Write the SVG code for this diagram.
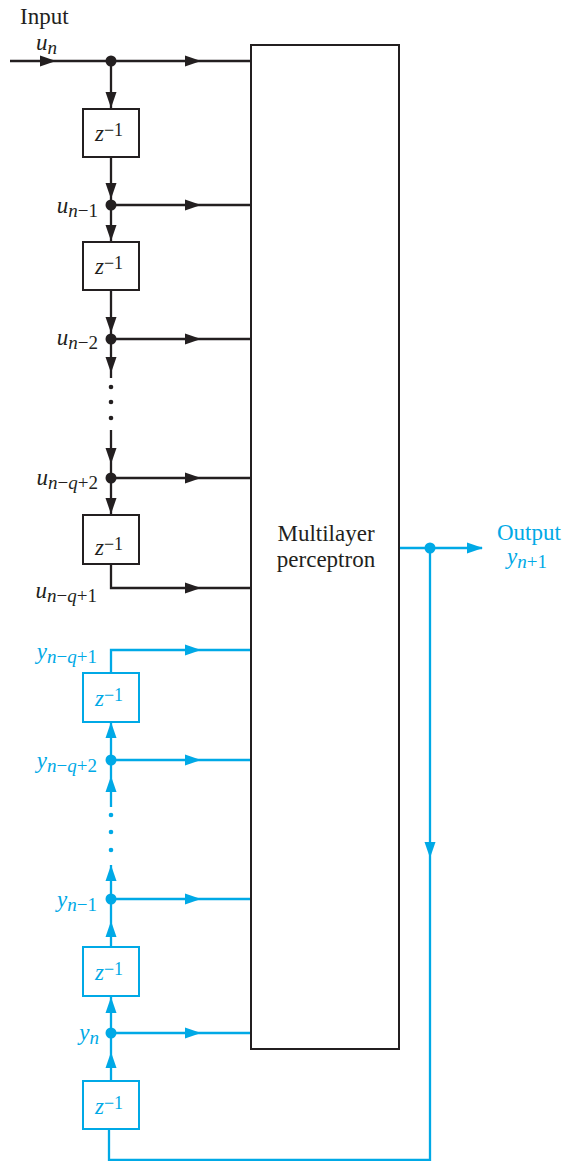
<svg xmlns="http://www.w3.org/2000/svg" xmlns:xlink="http://www.w3.org/1999/xlink" width="575" height="1161" viewBox="0 0 575 1161">
<style>
.k{stroke:#231f20;fill:none;stroke-width:2.3}
.b{stroke:#00a9e6;fill:none;stroke-width:2.3}
.kf{fill:#231f20}
.bf{fill:#00a9e6}
.box{fill:#fff;stroke-width:2}
text{font-family:"Liberation Serif","Times New Roman",serif;font-size:23px}
.i{font-style:italic}
.s{font-size:19px}
.su{font-size:18px}
.tk{fill:#231f20}
.tb{fill:#00a9e6}
</style>
<defs>
<path id="ah" d="M0,0 L-16,-5.5 L-16,5.5 Z"/>
</defs>
<g id="connectors">
<path class="k" d="M10,61 H251 M111,61 V109 M111,157 V242 M111,205 H251 M111,290 V378 M111,339 H251 M111,430 V515 M111,478 H251 M111,564 V588 H251"/>
<g class="kf">
<use xlink:href="#ah" transform="translate(56,61)"/>
<use xlink:href="#ah" transform="translate(201,61)"/>
<use xlink:href="#ah" transform="translate(111,108) rotate(90)"/>
<use xlink:href="#ah" transform="translate(111,199) rotate(90)"/>
<use xlink:href="#ah" transform="translate(201,205)"/>
<use xlink:href="#ah" transform="translate(111,241) rotate(90)"/>
<use xlink:href="#ah" transform="translate(111,333) rotate(90)"/>
<use xlink:href="#ah" transform="translate(201,339)"/>
<use xlink:href="#ah" transform="translate(111,373) rotate(90)"/>
<use xlink:href="#ah" transform="translate(111,464) rotate(90)"/>
<use xlink:href="#ah" transform="translate(201,478)"/>
<use xlink:href="#ah" transform="translate(111,514) rotate(90)"/>
<use xlink:href="#ah" transform="translate(201,588)"/>
<circle cx="111" cy="61" r="5.5"/>
<circle cx="111" cy="205" r="5.5"/>
<circle cx="111" cy="339" r="5.5"/>
<circle cx="111" cy="478" r="5.5"/>
<circle cx="111" cy="387" r="2.3"/>
<circle cx="111" cy="402" r="2.3"/>
<circle cx="111" cy="418" r="2.3"/>
</g>
<path class="b" d="M399,548 H482 M430,548 V1160 H109 V1129 M111,1081 V996 M111,1033 H251 M111,947 V865 M111,899 H251 M111,807 V673 M111,760 H251 M111,673 V650 H251"/>
<g class="bf">
<use xlink:href="#ah" transform="translate(483,548)"/>
<use xlink:href="#ah" transform="translate(430,858) rotate(90)"/>
<use xlink:href="#ah" transform="translate(201,650)"/>
<use xlink:href="#ah" transform="translate(201,760)"/>
<use xlink:href="#ah" transform="translate(201,899)"/>
<use xlink:href="#ah" transform="translate(201,1033)"/>
<use xlink:href="#ah" transform="translate(111,722) rotate(-90)"/>
<use xlink:href="#ah" transform="translate(111,776) rotate(-90)"/>
<use xlink:href="#ah" transform="translate(111,865) rotate(-90)"/>
<use xlink:href="#ah" transform="translate(111,921) rotate(-90)"/>
<use xlink:href="#ah" transform="translate(111,997) rotate(-90)"/>
<use xlink:href="#ah" transform="translate(111,1052) rotate(-90)"/>
<circle cx="430" cy="548" r="5.5"/>
<circle cx="111" cy="760" r="5.5"/>
<circle cx="111" cy="899" r="5.5"/>
<circle cx="111" cy="1033" r="5.5"/>
<circle cx="111" cy="815" r="2.3"/>
<circle cx="111" cy="832" r="2.3"/>
<circle cx="111" cy="850" r="2.3"/>
</g>
</g>
<g id="mlp">
<rect x="251" y="45" width="148" height="1004" class="k box"/>
<text x="326" y="541" text-anchor="middle" class="tk">Multilayer</text>
<text x="326" y="567" text-anchor="middle" class="tk">perceptron</text>
</g>
<g id="delay1"><rect x="83" y="109" width="56" height="48" class="k box"/><text x="95" y="141" class="tk"><tspan class="i">z</tspan><tspan class="su" dy="-5">−1</tspan></text></g>
<g id="delay2"><rect x="83" y="242" width="56" height="48" class="k box"/><text x="95" y="274" class="tk"><tspan class="i">z</tspan><tspan class="su" dy="-5">−1</tspan></text></g>
<g id="delay3"><rect x="83" y="515" width="56" height="49" class="k box"/><text x="95" y="555" class="tk"><tspan class="i">z</tspan><tspan class="su" dy="-5">−1</tspan></text></g>
<g id="delay4"><rect x="83" y="673" width="56" height="49" class="b box"/><text x="95" y="706" class="tb"><tspan class="i">z</tspan><tspan class="su" dy="-5">−1</tspan></text></g>
<g id="delay5"><rect x="83" y="947" width="56" height="49" class="b box"/><text x="95" y="980" class="tb"><tspan class="i">z</tspan><tspan class="su" dy="-5">−1</tspan></text></g>
<g id="delay6"><rect x="83" y="1081" width="56" height="48" class="b box"/><text x="95" y="1114" class="tb"><tspan class="i">z</tspan><tspan class="su" dy="-5">−1</tspan></text></g>
<g id="labels">
<text x="20" y="24" class="tk">Input</text>
<text x="36" y="50" class="tk"><tspan class="i">u</tspan><tspan class="s i" dy="4">n</tspan></text>
<text x="98" y="213" text-anchor="end" class="tk"><tspan class="i">u</tspan><tspan class="s i" dy="4">n</tspan><tspan class="s">−1</tspan></text>
<text x="98" y="345" text-anchor="end" class="tk"><tspan class="i">u</tspan><tspan class="s i" dy="4">n</tspan><tspan class="s">−2</tspan></text>
<text x="98" y="485" text-anchor="end" class="tk"><tspan class="i">u</tspan><tspan class="s i" dy="4">n</tspan><tspan class="s">−</tspan><tspan class="s i">q</tspan><tspan class="s">+2</tspan></text>
<text x="97" y="598" text-anchor="end" class="tk"><tspan class="i">u</tspan><tspan class="s i" dy="4">n</tspan><tspan class="s">−</tspan><tspan class="s i">q</tspan><tspan class="s">+1</tspan></text>
<text x="97" y="659" text-anchor="end" class="tb"><tspan class="i">y</tspan><tspan class="s i" dy="4">n</tspan><tspan class="s">−</tspan><tspan class="s i">q</tspan><tspan class="s">+1</tspan></text>
<text x="97" y="768" text-anchor="end" class="tb"><tspan class="i">y</tspan><tspan class="s i" dy="4">n</tspan><tspan class="s">−</tspan><tspan class="s i">q</tspan><tspan class="s">+2</tspan></text>
<text x="97" y="907" text-anchor="end" class="tb"><tspan class="i">y</tspan><tspan class="s i" dy="4">n</tspan><tspan class="s">−1</tspan></text>
<text x="99" y="1040" text-anchor="end" class="tb"><tspan class="i">y</tspan><tspan class="s i" dy="4">n</tspan></text>
<text x="497" y="540" class="tb">Output</text>
<text x="507" y="564" class="tb"><tspan class="i">y</tspan><tspan class="s i" dy="4">n</tspan><tspan class="s">+1</tspan></text>
</g>
</svg>
